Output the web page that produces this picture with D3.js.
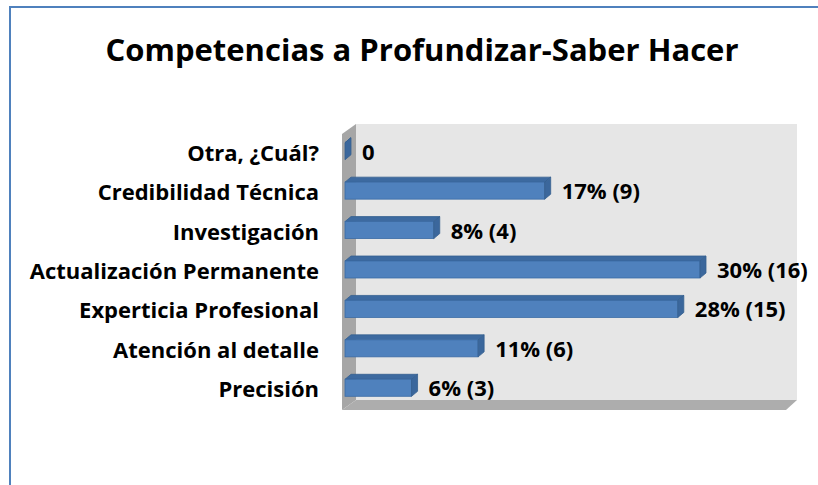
<!DOCTYPE html>
<html>
<head>
<meta charset="utf-8">
<script src="https://cdn.jsdelivr.net/npm/d3@7"></script>
<style>
  body { margin: 0; background: #fff; }
  text { font-family: "Open Sans", Lato, sans-serif; font-weight: bold; fill: #000; }
</style>
</head>
<body>
<div id="chart"></div>
<script>
// data (top to bottom)
const categories = ['Otra, ¿Cuál?', 'Credibilidad Técnica', 'Investigación', 'Actualización Permanente',
  'Experticia Profesional', 'Atención al detalle', 'Precisión'];
const counts = [0, 9, 4, 16, 15, 6, 3];
const percents = [0, 17, 8, 30, 28, 11, 6];
const title = 'Competencias a Profundizar-Saber Hacer';

const width = 818, height = 485;
const depth = { dx: -14, dy: 10 };   // wall/floor perspective offset
const bar = { dx: 6, dy: -5 };       // bar 3d offset

const svg = d3.select('#chart')
  .append('svg')
  .attr('width', width)
  .attr('height', height);

// frame (only left and top visible)
svg.append('path')
  .attr('d', 'M10,485 V7 H818')
  .attr('fill', 'none')
  .attr('stroke', '#4f81bd')
  .attr('stroke-width', 2);

svg.append('text')
  .attr('x', 422)
  .attr('y', 61)
  .attr('text-anchor', 'middle')
  .style('font-size', '31px')
  .text(title);

const x = d3.scaleLinear().domain([0, 16]).range([345, 700]);
const y = d3.scaleBand().domain(categories).range([130, 406]);

// walls
const wall = { x0: 356, x1: 797, y0: 124, y1: 400 };
svg.append('rect')
  .attr('x', wall.x0).attr('y', wall.y0)
  .attr('width', wall.x1 - wall.x0).attr('height', wall.y1 - wall.y0)
  .attr('fill', '#e6e6e6');
svg.append('polygon')
  .attr('points', [[wall.x0, wall.y0], [wall.x0 + depth.dx, wall.y0 + depth.dy],
    [wall.x0 + depth.dx, wall.y1 + depth.dy], [wall.x0, wall.y1]].join(' '))
  .attr('fill', '#a6a6a6');
svg.append('polygon')
  .attr('points', [[wall.x0, wall.y1], [wall.x1, wall.y1],
    [wall.x1 + depth.dx + 3, wall.y1 + depth.dy], [wall.x0 + depth.dx, wall.y1 + depth.dy]].join(' '))
  .attr('fill', '#adadad');

// bars
const rows = categories.map((c, i) => ({ cat: c, v: counts[i], p: percents[i] }));
const g = svg.selectAll('g.bar').data(rows).enter().append('g').attr('class', 'bar');
const cy = d => y(d.cat) + y.bandwidth() / 2;

g.append('polygon') // top face
  .attr('points', d => {
    const t = cy(d) - 7;
    return [[x(0), t], [x(0) + bar.dx, t + bar.dy], [x(d.v) + bar.dx, t + bar.dy], [x(d.v), t]].join(' ');
  })
  .attr('fill', '#3d6aa0').attr('stroke', '#35608f').attr('stroke-width', 0.8);
g.append('rect') // front face
  .attr('x', x(0))
  .attr('y', d => cy(d) - 7)
  .attr('width', d => x(d.v) - x(0))
  .attr('height', 17)
  .attr('fill', '#4f81bd').attr('stroke', '#3b6ba5').attr('stroke-width', 0.8);
g.append('polygon') // side face
  .attr('points', d => {
    const t = cy(d) - 7, xe = x(d.v);
    return [[xe, t], [xe + bar.dx, t + bar.dy], [xe + bar.dx, t + 17 + bar.dy], [xe, t + 17]].join(' ');
  })
  .attr('fill', '#3b679c').attr('stroke', '#35608f').attr('stroke-width', 0.8);

// value labels
g.append('text')
  .attr('x', d => x(d.v) + bar.dx + 11)
  .attr('y', d => cy(d) + 10)
  .style('font-size', '22px')
  .text(d => d.v === 0 ? '0' : d.p + '% (' + d.v + ')');

// category labels
svg.selectAll('text.cat').data(categories).enter().append('text')
  .attr('class', 'cat')
  .attr('x', 319)
  .attr('y', d => y(d) + y.bandwidth() / 2 + 11)
  .attr('text-anchor', 'end')
  .style('font-size', '22px')
  .text(d => d);
</script>
</body>
</html>
